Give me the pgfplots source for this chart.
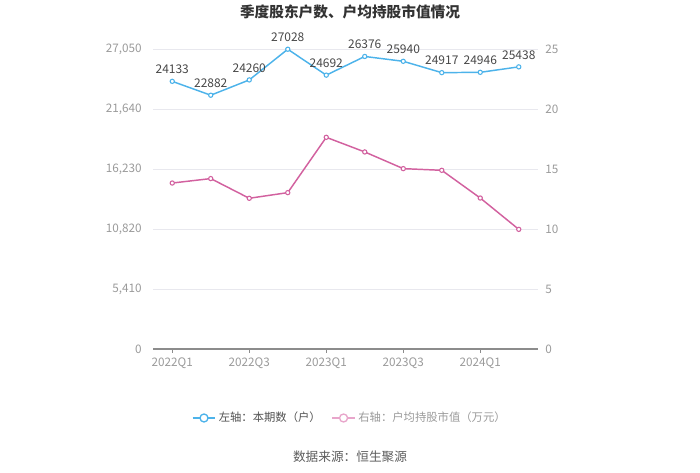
\documentclass[border=0pt]{standalone}
\usepackage{fontspec}
\setmainfont{Noto Sans CJK SC}
\usepackage{pgfplots}
\usepackage{pgfplotstable}
\pgfplotsset{compat=1.18}

\definecolor{cblue}{HTML}{4DB3EA}
\definecolor{cpink}{HTML}{D2619F}
\definecolor{lpink}{HTML}{E8A6CB}
\definecolor{tickgray}{HTML}{9A9A9A}
\definecolor{gridgray}{HTML}{E8E8EE}
\definecolor{axgray}{HTML}{8C8C8C}
\definecolor{txt}{HTML}{333333}

% quarter index, holders (left axis), avg holding value in 10k yuan (right axis)
\pgfplotstableread{
q  holders  value
0  24133    13.83
1  22882    14.20
2  24260    12.56
3  27028    13.03
4  24692    17.64
5  26376    16.42
6  25940    15.03
7  24917    14.89
8  24946    12.58
9  25438    9.97
}\quarters

\pgfplotsset{
  base/.style={
    at={(114.75pt,93pt)}, anchor=south west,
    width=288.75pt, height=225pt, scale only axis,
    xmin=-0.5, xmax=9.5, ymin=0,
    scaled y ticks=false,
    tick label style={font=\fontsize{8.8}{10}\selectfont, text=tickgray},
    /pgf/number format/assume math mode=true,
    major y tick style={draw=none},
    y axis line style={draw=none},
  }
}

\begin{document}
\begin{tikzpicture}
\path[use as bounding box] (0pt,0pt) rectangle (525pt,354.75pt);

\begin{axis}[base,
  ymax=27050,
  ytick={0,5410,10820,16230,21640,27050},
  /pgf/number format/.cd, 1000 sep={,}, /pgfplots/.cd,
  axis x line*=bottom, axis y line*=left,
  x axis line style={axgray, line width=0.8pt, -},
  xtick={0,2,4,6,8},
  xticklabels={2022Q1,2022Q3,2023Q1,2023Q3,2024Q1},
  major x tick style={axgray, line width=0.6pt},
  tick align=outside, major tick length=3pt,
  ymajorgrids, grid style={gridgray, line width=0.6pt},
  yticklabel style={xshift=-2pt},
]
\addplot[cblue, line width=1.1pt, mark=*, mark size=1.6pt,
  mark options={fill=white, draw=cblue, line width=0.8pt},
  nodes near coords={\pgfmathprintnumber[1000 sep={}]{\pgfplotspointmeta}},
  every node near coord/.append style={font=\fontsize{9}{10}\selectfont, text=txt!90, yshift=2pt}]
  table[x=q, y=holders] {\quarters};
\end{axis}

\begin{axis}[base,
  ymax=25,
  ytick={0,5,10,15,20,25},
  axis x line=none, axis y line*=right,
  yticklabel style={xshift=2pt},
  legend style={draw=none, fill=none, at={(0.512,-0.23)}, anchor=center,
    legend columns=2, font=\fontsize{8.5}{10}\selectfont,
    /tikz/every even column/.append style={column sep=6pt}},
  legend cell align=left,
]
\addlegendimage{cblue, line width=1.1pt, mark=*, mark size=3pt,
  mark options={fill=white, draw=cblue, line width=1pt}}
\addlegendentry{\textcolor{txt!85}{左轴：本期数（户）}}
\addlegendimage{lpink, line width=1.1pt, mark=*, mark size=3pt,
  mark options={fill=white, draw=lpink, line width=1pt}}
\addlegendentry{\textcolor{tickgray}{右轴：户均持股市值（万元）}}
\addplot[cpink, line width=1.1pt, mark=*, mark size=1.6pt, forget plot,
  mark options={fill=white, draw=cpink, line width=0.8pt}]
  table[x=q, y=value] {\quarters};
\end{axis}

\node[font=\bfseries\fontsize{11}{12}\selectfont, text=txt] at (262.5pt,345.5pt) {季度股东户数、户均持股市值情况};
\node[font=\fontsize{9.5}{11}\selectfont, text=txt!80] at (262.5pt,12pt) {数据来源：恒生聚源};
\end{tikzpicture}
\end{document}
